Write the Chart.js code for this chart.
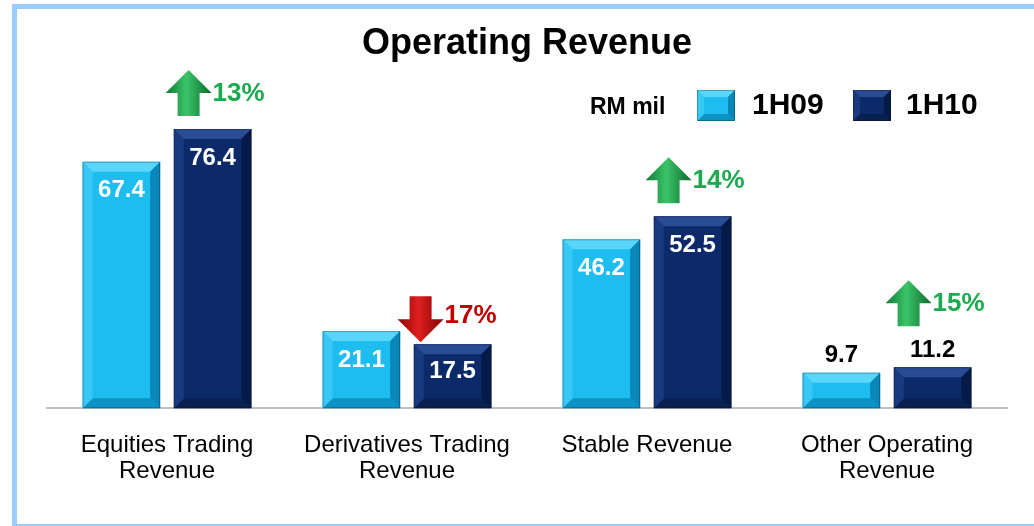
<!DOCTYPE html>
<html>
<head>
<meta charset="utf-8">
<script src="https://cdn.jsdelivr.net/npm/chart.js@4"></script>
<style>
  html, body { margin: 0; padding: 0; background: #fff; }
  #wrap { position: relative; width: 1034px; height: 526px; overflow: hidden; }
  #frame { position: absolute; left: 12px; top: 4px; width: 1030px; height: 525px;
           border: 5px solid #99CCFF; box-sizing: border-box; }
  #c { position: absolute; left: 0; top: 0; }
</style>
</head>
<body>
<div id="wrap">
  <div id="frame"></div>
  <canvas id="c" width="1034" height="526"></canvas>
</div>
<script>
// chart data
const categorias = [['Equities Trading', 'Revenue'], ['Derivatives Trading', 'Revenue'], 'Stable Revenue', ['Other Operating', 'Revenue']];
const valores1H09 = [67.4, 21.1, 46.2, 9.7];
const valores1H10 = [76.4, 17.5, 52.5, 11.2];
const cambios = [13, -17, 14, 15];   // % change 1H09 -> 1H10
const unidad = 'RM mil';

const FONT = 'Arial, "Liberation Sans", sans-serif';

// draws bevel edges, value labels, change arrows and the legend
const decoracion = {
  id: 'decoracion',
  afterDatasetsDraw(chart) {
    const ctx = chart.ctx;
    chart.data.datasets.forEach((ds, di) => {
      const meta = chart.getDatasetMeta(di);
      meta.data.forEach((bar, i) => {
        const l = bar.x - bar.width / 2, r = bar.x + bar.width / 2;
        const t = bar.y, b = bar.base;
        biselar(ctx, l, t, r, b, ds.bisel);
        // value label
        const v = ds.data[i];
        ctx.save();
        ctx.font = 'bold 24px ' + FONT;
        ctx.textAlign = 'center';
        ctx.textBaseline = 'middle';
        if (b - t > 50) {
          ctx.fillStyle = '#fff';
          ctx.fillText(v.toFixed(1), bar.x, t + Math.min(29, (b - t) / 2 - 5));
        } else {
          ctx.fillStyle = '#000';
          ctx.fillText(v.toFixed(1), bar.x, t - 17);
        }
        ctx.restore();
      });
    });

    // arrows over the 1H10 bars
    const meta = chart.getDatasetMeta(1);
    cambios.forEach((c, i) => {
      const bar = meta.data[i];
      const h = bar.base - bar.y;
      const cx = bar.x - (c < 0 ? 32 : 24);
      const bottom = c < 0 ? bar.y - 2 : (h > 50 ? bar.y - 13 : bar.y - 41);
      flecha(ctx, cx, bottom, c >= 0);
      ctx.save();
      ctx.font = 'bold 26px ' + FONT;
      ctx.fillStyle = c >= 0 ? '#1BAA4E' : '#C00000';
      ctx.textAlign = 'left';
      ctx.textBaseline = 'middle';
      ctx.fillText(Math.abs(c) + '%', cx + 24, c >= 0 ? bottom - 22 : bottom - 26);
      ctx.restore();
    });

    // legend
    ctx.save();
    ctx.textBaseline = 'middle';
    ctx.fillStyle = '#000';
    ctx.font = 'bold 23px ' + FONT;
    ctx.fillText(unidad, 590, 108);
    const items = [[697, 752], [853, 906]];
    chart.data.datasets.forEach((ds, di) => {
      const [bx, tx] = items[di];
      ctx.fillStyle = ds.backgroundColor;
      ctx.fillRect(bx, 90, 38, 31);
      biselar(ctx, bx, 90, bx + 38, 121, ds.bisel, 7);
      ctx.fillStyle = '#000';
      ctx.font = 'bold 30px ' + FONT;
      ctx.fillText(ds.label, tx, 106);
    });
    ctx.restore();
  }
};

function biselar(ctx, l, t, r, b, col, e) {
  e = e || Math.min(10, (b - t) / 3);
  ctx.save();
  const caras = [
    [[l, t], [r, t], [r - e, t + e], [l + e, t + e], col.top],
    [[r, t], [r, b], [r - e, b - e], [r - e, t + e], col.right],
    [[l, b], [r, b], [r - e, b - e], [l + e, b - e], col.bottom],
    [[l, t], [l + e, t + e], [l + e, b - e], [l, b], col.left]
  ];
  caras.forEach(f => {
    ctx.beginPath();
    ctx.moveTo(f[0][0], f[0][1]);
    for (let k = 1; k < 4; k++) ctx.lineTo(f[k][0], f[k][1]);
    ctx.closePath();
    ctx.fillStyle = f[4];
    ctx.fill();
  });
  ctx.strokeStyle = 'rgba(0,0,0,0.25)';
  ctx.lineWidth = 1;
  ctx.strokeRect(l + 0.5, t + 0.5, r - l - 1, b - t - 1);
  ctx.restore();
}

function flecha(ctx, cx, bottom, arriba) {
  // arrow 46 wide, 46 tall; head 23, shaft 22 wide
  const w = 23, sw = 11, H = 46, hh = 23;
  ctx.save();
  ctx.beginPath();
  const top = bottom - H;
  if (arriba) {
    ctx.moveTo(cx, top);
    ctx.lineTo(cx + w, top + hh);
    ctx.lineTo(cx + sw, top + hh);
    ctx.lineTo(cx + sw, bottom);
    ctx.lineTo(cx - sw, bottom);
    ctx.lineTo(cx - sw, top + hh);
    ctx.lineTo(cx - w, top + hh);
  } else {
    ctx.moveTo(cx - sw, top);
    ctx.lineTo(cx + sw, top);
    ctx.lineTo(cx + sw, bottom - hh);
    ctx.lineTo(cx + w, bottom - hh);
    ctx.lineTo(cx, bottom);
    ctx.lineTo(cx - w, bottom - hh);
    ctx.lineTo(cx - sw, bottom - hh);
  }
  ctx.closePath();
  const g = ctx.createLinearGradient(cx - w, 0, cx + w, 0);
  if (arriba) {
    g.addColorStop(0, '#0E7A32');
    g.addColorStop(0.45, '#3CC46A');
    g.addColorStop(1, '#0C6A2A');
  } else {
    g.addColorStop(0, '#8A0000');
    g.addColorStop(0.45, '#E02020');
    g.addColorStop(1, '#800000');
  }
  ctx.fillStyle = g;
  ctx.fill();
  ctx.restore();
}

new Chart(document.getElementById('c'), {
  type: 'bar',
  data: {
    labels: categorias,
    datasets: [
      {
        label: '1H09',
        data: valores1H09,
        backgroundColor: '#1DBDF0',
        bisel: { top: '#5AD6F8', right: '#0A86B8', bottom: '#0C92C4', left: '#38C8F4' }
      },
      {
        label: '1H10',
        data: valores1H10,
        backgroundColor: '#0C2A6A',
        bisel: { top: '#2A4C94', right: '#061A48', bottom: '#08204F', left: '#1A3A80' }
      }
    ]
  },
  options: {
    responsive: false,
    animation: false,
    categoryPercentage: 0.76,
    barPercentage: 0.85,
    layout: { padding: { left: 47, right: 27, top: 22, bottom: 17 } },
    scales: {
      x: {
        grid: { display: false, drawTicks: false },
        border: { color: '#BFBFBF', width: 2 },
        ticks: { color: '#000', font: { family: FONT, size: 24, lineHeight: 1.1 }, padding: 24, maxRotation: 0 }
      },
      y: {
        display: false,
        min: 0,
        max: 90
      }
    },
    plugins: {
      legend: { display: false },
      tooltip: { enabled: false },
      title: {
        display: true,
        text: 'Operating Revenue',
        color: '#000',
        font: { family: FONT, size: 36, weight: 'bold' },
        padding: { top: 0, bottom: 14 }
      }
    }
  },
  plugins: [decoracion]
});
</script>
</body>
</html>
